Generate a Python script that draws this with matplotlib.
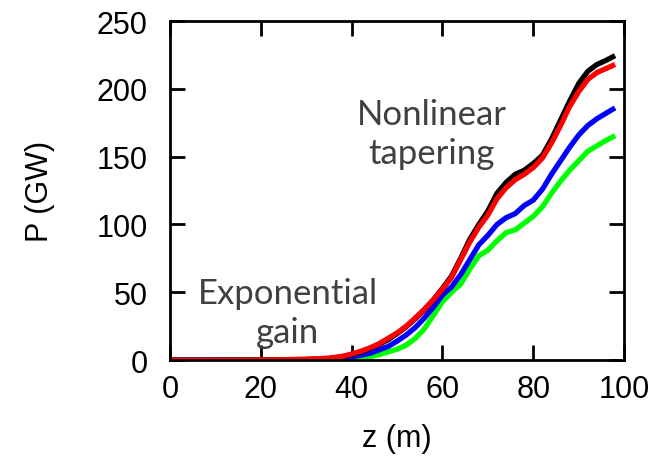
import matplotlib
matplotlib.use("Agg")
import matplotlib.pyplot as plt

z = [0, 10, 20, 30, 35, 38, 40, 42, 44, 46, 48, 50, 52, 54, 56, 58, 60, 62, 64, 66,
     68, 70, 72, 74, 76, 78, 80, 82, 84, 86, 88, 90, 92, 94, 96, 98]

p_black = [0, 0, 0.1, 0.5, 1.2, 2.5, 4, 6, 8.5, 11.5, 15, 19.5, 24.5, 30.5, 37, 44.5, 53, 62, 75, 89,
           100, 110, 123, 131, 137, 140, 145, 151, 163, 177, 191, 204, 213, 218, 221, 224.5]
p_red = [0, 0, 0.1, 0.6, 1.4, 2.8, 4.5, 6.5, 9, 12, 16, 20, 25, 31, 37.5, 44.5, 52.5, 61, 74, 87,
         98, 107, 119, 127, 133, 137, 142, 149, 160, 173, 187, 198, 207, 212, 215, 218]
p_blue = [0, 0, 0, 0.2, 0.5, 1.2, 2.5, 3.5, 5, 7.5, 10, 14, 18.5, 24, 31, 39, 48, 54, 63, 74,
          85, 92, 100, 105, 108, 114, 118, 126, 137, 147, 157, 166, 173, 178, 182, 186]
p_green = [0, 0, 0, 0.1, 0.2, 0.5, 1, 1.5, 2.5, 4, 6, 8, 11, 16, 23, 33, 43, 50, 56, 67,
           77, 81, 88, 94, 96, 101, 106, 113, 123, 132, 140, 147, 154, 158, 162, 165.5]

x_ticks = [0, 20, 40, 60, 80, 100]
y_ticks = [0, 50, 100, 150, 200, 250]

fig = plt.figure(figsize=(6.64, 4.60), dpi=100)
ax = fig.add_axes([0.256, 0.215, 0.684, 0.737])

lw = 3.8
ax.plot(z, p_green, color="#00ff00", lw=lw, solid_capstyle="butt")
ax.plot(z, p_blue, color="#0000ff", lw=lw, solid_capstyle="butt")
ax.plot(z, p_black, color="black", lw=lw, solid_capstyle="butt")
ax.plot(z, p_red, color="#ff0000", lw=lw, solid_capstyle="butt")

ax.set_xlim(0, 100)
ax.set_ylim(0, 250)
ax.set_xticks(x_ticks)
ax.set_yticks(y_ticks)
ax.tick_params(direction="in", length=11, width=2, top=True, right=True,
               labelsize=22)
ax.tick_params(axis="y", pad=16)
ax.tick_params(axis="x", pad=10)
for lab in ax.get_xticklabels() + ax.get_yticklabels():
    lab.set_family("Liberation Sans")
for s in ax.spines.values():
    s.set_linewidth(2)

ax.set_xlabel("z (m)", fontsize=22, family="Liberation Sans", labelpad=14)
ax.set_ylabel("P (GW)", fontsize=22, family="Liberation Sans", labelpad=30)

ax.text(57.6, 167, "Nonlinear\ntapering", fontsize=25, family="Lato",
        color="#404040", ha="center", va="center", linespacing=1.25)
ax.text(25.9, 35, "Exponential\ngain", fontsize=25, family="Lato",
        color="#404040", ha="center", va="center", linespacing=1.25)

fig.savefig("out.png", dpi=100)
